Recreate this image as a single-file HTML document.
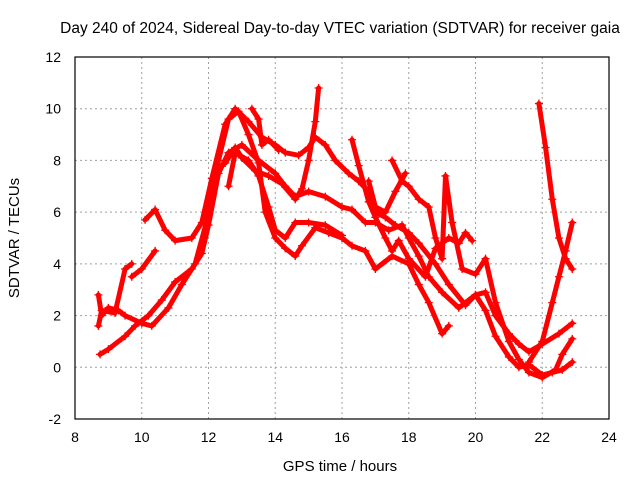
<!DOCTYPE html>
<html><head><meta charset="utf-8"><style>
html,body{margin:0;padding:0;background:#fff;}
svg{display:block;font-family:"Liberation Sans",sans-serif;}
</style></head><body>
<svg id="chart" width="640" height="480" viewBox="0 0 640 480" xmlns="http://www.w3.org/2000/svg">
<rect width="640" height="480" fill="#fff"/>
<text x="340" y="33" font-size="15.5" text-anchor="middle" fill="#000">Day 240 of 2024, Sidereal Day-to-day VTEC variation (SDTVAR) for receiver gaia</text>
<g id="grid"></g>
<g id="series"></g>
<rect x="75" y="57" width="534" height="362" fill="none" stroke="#000" stroke-width="1.2"/>
<g id="ticks"></g>
<text x="340" y="471" font-size="15" text-anchor="middle">GPS time / hours</text>
<text x="19" y="238" font-size="15" text-anchor="middle" transform="rotate(-90 19 238)">SDTVAR / TECUs</text>
</svg>
<script>
const xTicks=[8,10,12,14,16,18,20,22,24];
const yTicks=[-2,0,2,4,6,8,10,12];
const s1=[[8.75,0.5],[9,0.7],[9.5,1.2],[9.8,1.6],[10.2,2],[10.6,2.6],[11,3.3],[11.5,3.8],[11.8,4.4],[12,5.5],[12.3,7.5],[12.6,8.3],[13,8.6],[13.5,8],[14,7.5],[14.3,7],[14.6,6.6],[15,6.8],[15.5,6.6],[16,6.2],[16.3,6.1],[16.7,5.6],[17,5.6],[17.4,5.3],[17.8,5.5],[18,5],[18.3,4.3],[18.6,3.5],[19,2.9],[19.5,2.3],[20,2.8],[20.3,2.9],[20.6,2.0],[21,1.3],[21.3,0.9],[21.6,0.6],[22,0.9],[22.5,1.3],[22.9,1.7]];
const s2=[[8.7,2.8],[8.8,2.0],[9.0,2.3],[9.3,2.2],[9.5,2.0],[10,1.7],[10.3,1.6],[10.8,2.3],[11.2,3.2],[11.6,4.0],[12,5.9],[12.3,8],[12.6,9.6],[12.9,9.9],[13.2,9],[13.5,7.9],[13.7,6],[14,5],[14.3,4.6],[14.6,4.3],[14.8,4.7],[15.2,5.4],[15.6,5.2],[16,5.0],[16.3,4.7],[16.7,4.5],[17,3.8],[17.5,4.3],[18,4],[18.3,3.2],[18.6,2.5],[19,1.3],[19.2,1.6]];
const s3=[[8.7,1.6],[8.8,2.2],[9.2,2.1],[9.5,3.8],[9.7,4.0]];
const s4=[[9.7,3.5],[10,3.8],[10.4,4.5]];
const s5=[[10.1,5.7],[10.4,6.1],[10.7,5.3],[11,4.9],[11.5,5],[11.8,5.6],[12.1,7.3],[12.5,9.4],[12.8,10],[13.2,9.5],[13.6,8.9],[14,8.6],[14.3,8.3],[14.7,8.2],[15,8.5],[15.2,8.9],[15.5,8.6],[15.8,8.0],[16.2,7.5],[16.5,7.2],[16.8,6.8],[17,6.0],[17.3,5.8],[17.6,5.5],[18,5.2],[18.3,4.8],[18.8,4.0],[19.2,3.2],[19.7,2.4],[20,2.8],[20.3,2.2],[20.6,1.2],[21,0.4],[21.3,0],[21.6,0.1],[22,-0.3],[22.3,-0.2],[22.6,-0.1],[22.9,0.2]];
const s6=[[12.5,7.9],[12.8,8.5],[13,8.1],[13.4,7.6],[13.8,7.4],[14.2,7.1],[14.6,6.5],[14.8,6.9],[15,8],[15.2,9.5],[15.3,10.8]];
const s7=[[12.6,7.0],[12.8,8.3],[13.2,8.0],[13.5,7.4],[13.8,6.2],[14,5.3],[14.3,5.0],[14.6,5.6],[15,5.6],[15.5,5.5],[16,5.1]];
const s8=[[13.3,10],[13.5,9.6],[13.6,8.6],[13.8,8.8],[14.1,8.4]];
const s9=[[16.3,8.8],[16.5,7.8],[16.8,6.4],[17,5.8],[17.3,5.0],[17.5,4.5],[17.7,4.9],[18,4.2],[18.5,3.5],[18.8,4.6],[19.2,5.0],[19.5,4.8],[19.7,5.2],[19.9,4.9]];
const s10=[[17.5,8.0],[17.8,7.2],[18,7.0],[18.3,6.5],[18.6,6.2],[18.8,5.0],[19,4.2],[19.1,7.4],[19.3,5.6],[19.6,3.8],[20,3.6],[20.3,4.2],[20.6,2.5],[21,1.0],[21.3,0.3],[21.6,-0.2],[22,-0.4],[22.4,-0.1],[22.6,0.5],[22.9,1.1]];
const s11=[[21.9,10.2],[22.1,8.5],[22.3,6.5],[22.5,5],[22.7,4.2],[22.9,3.8]];
const s12=[[21.6,0.2],[22,1.0],[22.3,2.5],[22.5,3.5],[22.7,4.5],[22.9,5.6]];
const s13=[[16.8,7.2],[17,6.2],[17.3,6.0],[17.6,6.8],[17.9,7.5]];
const allSeries=[s1,s2,s3,s4,s5,s6,s7,s8,s9,s10,s11,s12,s13];

const X0=75,X1=609,Y0=419,Y1=57;
function xs(v){return X0+(v-8)/(24-8)*(X1-X0);}
function ys(v){return Y0-(v+2)/(12+2)*(Y0-Y1);}
const NS="http://www.w3.org/2000/svg";
const grid=document.getElementById('grid'),ticks=document.getElementById('ticks'),ser=document.getElementById('series');
function mk(t,a,p){const e=document.createElementNS(NS,t);for(const k in a)e.setAttribute(k,a[k]);p.appendChild(e);return e;}
xTicks.forEach(v=>{
  const x=xs(v);
  if(v>8&&v<24){const g=mk('line',{x1:x,x2:x,y1:Y1,y2:Y0,stroke:'#a0a0a0','stroke-dasharray':'2,3','stroke-width':1},grid);
  
  }
  const t=mk('text',{x:x,y:442,'font-size':14,'text-anchor':'middle'},ticks);t.textContent=v;
  
  
});
yTicks.forEach(v=>{
  const y=ys(v);
  if(v>-2&&v<12){const g=mk('line',{x1:X0,x2:X1,y1:y,y2:y,stroke:'#a0a0a0','stroke-dasharray':'2,3','stroke-width':1},grid);
  
  }
  const t=mk('text',{x:61,y:y+5,'font-size':14,'text-anchor':'end'},ticks);t.textContent=v;
  
  
});
allSeries.forEach((s,i)=>{
  const pts=s.map(p=>xs(p[0]).toFixed(1)+','+ys(p[1]).toFixed(1)).join(' ');
  const pl=mk('polyline',{points:pts,fill:'none',stroke:'#f00','stroke-width':5,'stroke-linejoin':'round','stroke-linecap':'round'},ser);
  
  
  s.forEach(p=>{
    const x=xs(p[0]),y=ys(p[1]);
    const m=mk('path',{d:`M${x-4},${y}H${x+4}M${x},${y-4}V${y+4}`,stroke:'#f00','stroke-width':1.3},ser);
    
    
  });
});
</script>
</body></html>
